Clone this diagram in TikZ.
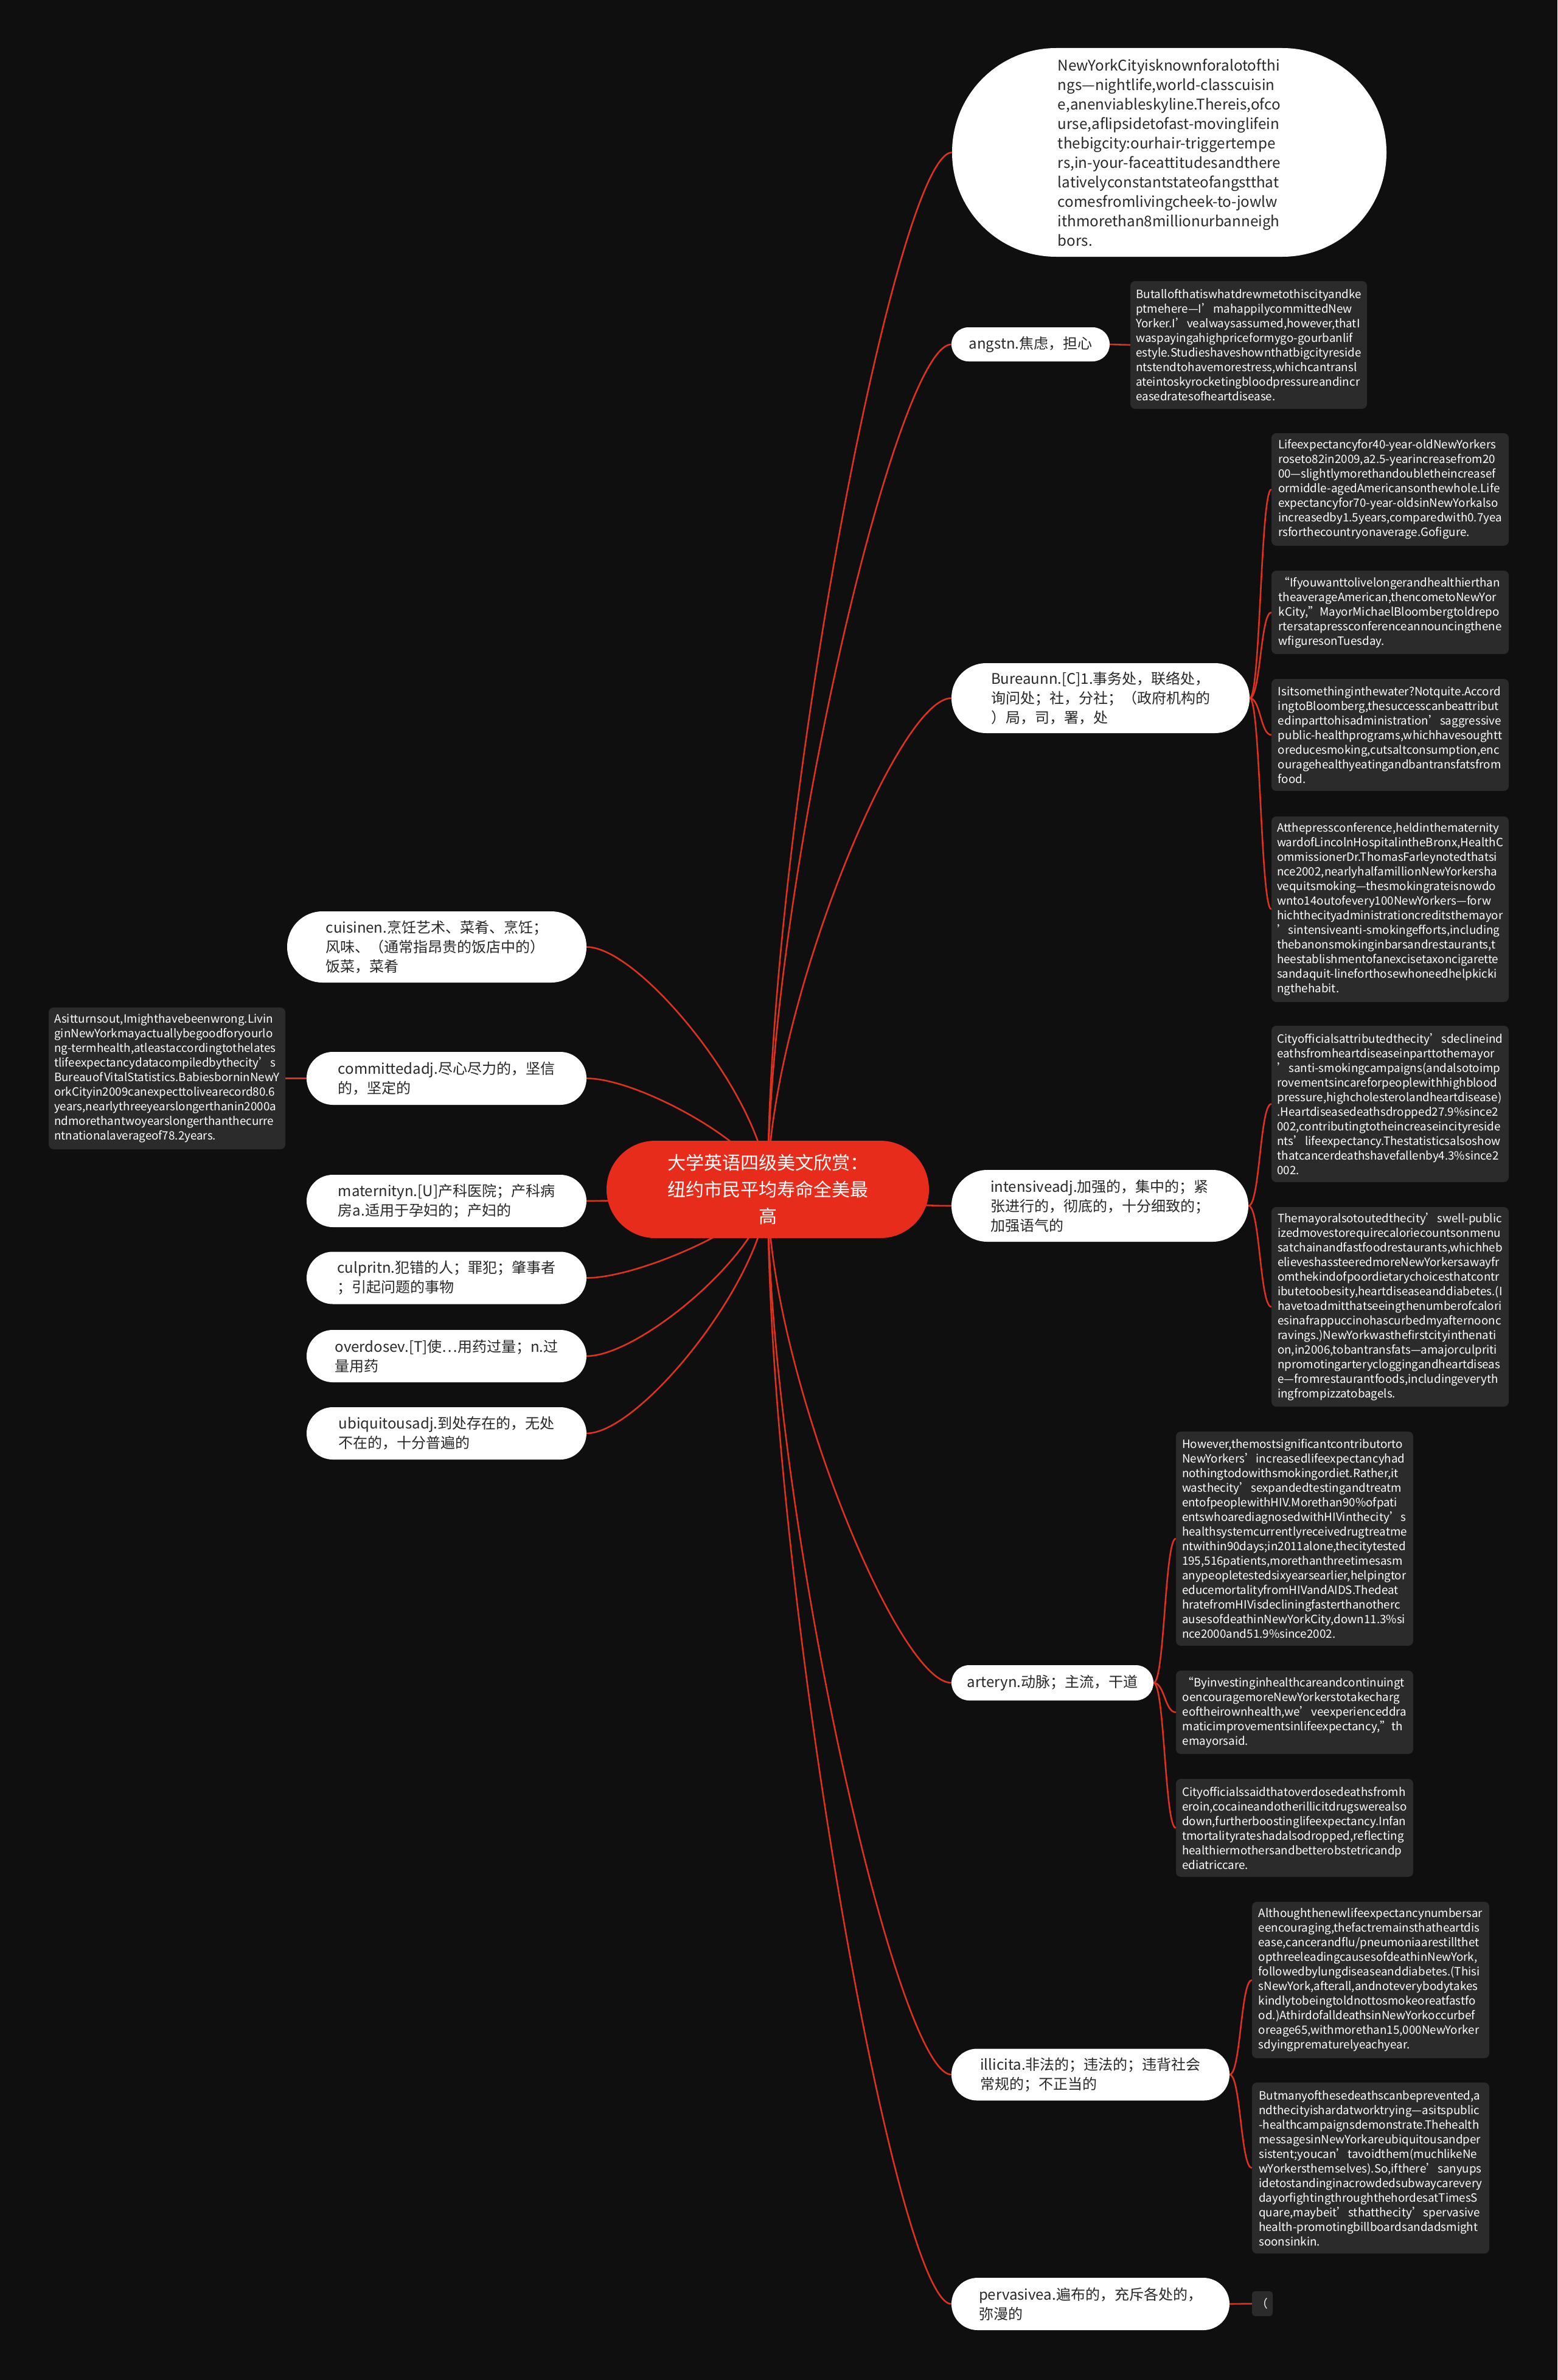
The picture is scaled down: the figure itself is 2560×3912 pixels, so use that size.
\documentclass[tikz,border=0pt]{standalone}
\usepackage{fontspec}
\setmainfont{Noto Sans CJK SC}
\usetikzlibrary{calc}
\pgfdeclarelayer{backlayer}
\pgfdeclarelayer{linklayer}
\pgfsetlayers{backlayer,linklayer,main}
\definecolor{bgc}{RGB}{15,15,15}
\definecolor{boxgray}{RGB}{43,43,43}
\definecolor{mmred}{RGB}{232,44,28}
\definecolor{linkred}{RGB}{222,50,32}
\definecolor{txtdark}{RGB}{40,40,40}
\newcommand\rootlink[1]{\draw[link] let \p1=(root.center), \p2=(#1) in (\p1) .. controls (\x1,{\y1+0.35*(\y2-\y1)}) and ({\x1+0.7*(\x2-\x1)},\y2) .. (\p2);}
\newcommand\sublink[2]{\draw[link] let \p1=(#1.east), \p2=(#2.west) in (\p1) .. controls ({0.5*(\x1+\x2)},\y1) and ({0.5*(\x1+\x2)},\y2) .. (\p2);}
\begin{document}
\begin{tikzpicture}[x=1pt,y=-1pt,
  link/.style={draw=linkred, line width=2.6pt},
  wnode/.style={fill=white, text=txtdark, align=left, inner sep=0pt, font=\fontsize{24}{32}\selectfont},
  dbox/.style={fill=boxgray, text=white, align=left, inner sep=0pt, minimum width=390pt, rounded corners=8pt, font=\fontsize{18.8}{24}\selectfont},
  rootnode/.style={fill=mmred, text=white, align=center, inner sep=0pt, minimum width=530pt, minimum height=160pt, rounded corners=80pt, font=\fontsize{30}{44}\selectfont}]
\begin{pgfonlayer}{backlayer}
\fill[bgc] (0,0) rectangle (2560,3912);
\end{pgfonlayer}
\useasboundingbox (0,0) rectangle (2560,3912);

% root
\node[rootnode] (root) at (1262,1955) {大学英语四级美文欣赏：\\纽约市民平均寿命全美最\\高};

% right main nodes
\node[wnode, minimum width=714pt, minimum height=343pt, rounded corners=171pt, font=\fontsize{24.2}{32}\selectfont] (intro) at (1922,250.5) {NewYorkCityisknownforalotofthi\\ngs—nightlife,world-classcuisin\\e,anenviableskyline.Thereis,ofco\\urse,aflipsidetofast-movinglifein\\thebigcity:ourhair-triggertempe\\rs,in-your-faceattitudesandthere\\lativelyconstantstateofangstthat\\comesfromlivingcheek-to-jowlw\\ithmorethan8millionurbanneigh\\bors.};
\node[wnode, minimum width=260pt, minimum height=56pt, rounded corners=28pt] (angst) at (1694,566) {angstn.焦虑，担心};
\node[wnode, minimum width=490pt, minimum height=115pt, rounded corners=57pt] (bureau) at (1809,1147.5) {Bureaunn.[C]1.事务处，联络处，\\询问处；社，分社；（政府机构的\\）局，司，署，处};
\node[wnode, minimum width=488pt, minimum height=118pt, rounded corners=59pt] (intensive) at (1808,1982) {intensiveadj.加强的，集中的；紧\\张进行的，彻底的，十分细致的；\\加强语气的};
\node[wnode, minimum width=332pt, minimum height=58pt, rounded corners=29pt] (artery) at (1730,2766) {arteryn.动脉；主流，干道};
\node[wnode, minimum width=457pt, minimum height=85pt, rounded corners=42pt] (illicit) at (1792.5,3410) {illicita.非法的；违法的；违背社会\\常规的；不正当的};
\node[wnode, minimum width=457pt, minimum height=86pt, rounded corners=43pt] (pervasive) at (1792.5,3787) {pervasivea.遍布的，充斥各处的，\\弥漫的};

% left main nodes
\node[wnode, minimum width=492pt, minimum height=117pt, rounded corners=58pt] (cuisine) at (718,1556.5) {cuisinen.烹饪艺术、菜肴、烹饪；\\风味、（通常指昂贵的饭店中的）\\饭菜，菜肴};
\node[wnode, minimum width=460pt, minimum height=87pt, rounded corners=43pt] (committed) at (734,1772.5) {committedadj.尽心尽力的，坚信\\的，坚定的};
\node[wnode, minimum width=460pt, minimum height=86pt, rounded corners=43pt] (maternity) at (734,1974) {maternityn.[U]产科医院；产科病\\房a.适用于孕妇的；产妇的};
\node[wnode, minimum width=460pt, minimum height=86pt, rounded corners=43pt] (culprit) at (734,2100.5) {culpritn.犯错的人；罪犯；肇事者\\；引起问题的事物};
\node[wnode, minimum width=460pt, minimum height=86pt, rounded corners=43pt] (overdose) at (734,2229) {overdosev.[T]使…用药过量；n.过\\量用药};
\node[wnode, minimum width=460pt, minimum height=86pt, rounded corners=43pt] (ubiquitous) at (734,2356) {ubiquitousadj.到处存在的，无处\\不在的，十分普遍的};

% dark detail boxes
\node[dbox, minimum width=389pt, minimum height=210pt] (ab) at (2052.5,567) {Butallofthatiswhatdrewmetothiscityandke\\ptmehere—I’mahappilycommittedNew\\Yorker.I’vealwaysassumed,however,thatI\\waspayingahighpriceformygo-gourbanlif\\estyle.Studieshaveshownthatbigcityreside\\ntstendtohavemorestress,whichcantransl\\ateintoskyrocketingbloodpressureandincr\\easedratesofheartdisease.};

\node[dbox, minimum height=185pt] (b1) at (2285,804.5) {Lifeexpectancyfor40-year-oldNewYorkers\\roseto82in2009,a2.5-yearincreasefrom20\\00—slightlymorethandoubletheincreasef\\ormiddle-agedAmericansonthewhole.Life\\expectancyfor70-year-oldsinNewYorkalso\\increasedby1.5years,comparedwith0.7yea\\rsforthecountryonaverage.Gofigure.};
\node[dbox, minimum height=137pt] (b2) at (2285,1006.5) {“Ifyouwanttolivelongerandhealthierthan\\theaverageAmerican,thencometoNewYor\\kCity,”MayorMichaelBloombergtoldrepo\\rtersatapressconferenceannouncingthene\\wfiguresonTuesday.};
\node[dbox, minimum height=184pt] (b3) at (2285,1208) {Isitsomethinginthewater?Notquite.Accord\\ingtoBloomberg,thesuccesscanbeattribut\\edinparttohisadministration’saggressive\\public-healthprograms,whichhavesoughtt\\oreducesmoking,cutsaltconsumption,enc\\ouragehealthyeatingandbantransfatsfrom\\food.};
\node[dbox, minimum height=305pt] (b4) at (2285,1494.5) {Atthepressconference,heldinthematernity\\wardofLincolnHospitalintheBronx,HealthC\\ommissionerDr.ThomasFarleynotedthatsi\\nce2002,nearlyhalfamillionNewYorkersha\\vequitsmoking—thesmokingrateisnowdo\\wnto14outofevery100NewYorkers—forw\\hichthecityadministrationcreditsthemayor\\’sintensiveanti-smokingefforts,including\\thebanonsmokinginbarsandrestaurants,t\\heestablishmentofanexcisetaxoncigarette\\sandaquit-lineforthosewhoneedhelpkicki\\ngthehabit.};

\node[dbox, minimum height=257pt] (i1) at (2285,1814.5) {Cityofficialsattributedthecity’sdeclineind\\eathsfromheartdiseaseinparttothemayor\\’santi-smokingcampaigns(andalsotoimp\\rovementsincareforpeoplewithhighblood\\pressure,highcholesterolandheartdisease)\\.Heartdiseasedeathsdropped27.9\%since2\\002,contributingtotheincreaseincityreside\\nts’lifeexpectancy.Thestatisticsalsoshow\\thatcancerdeathshavefallenby4.3\%since2\\002.};
\node[dbox, minimum height=328pt] (i2) at (2285,2148) {Themayoralsotoutedthecity’swell-public\\izedmovestorequirecaloriecountsonmenu\\satchainandfastfoodrestaurants,whichheb\\elieveshassteeredmoreNewYorkersawayfr\\omthekindofpoordietarychoicesthatcontr\\ibutetoobesity,heartdiseaseanddiabetes.(I\\havetoadmitthatseeingthenumberofcalori\\esinafrappuccinohascurbedmyafternoonc\\ravings.)NewYorkwasthefirstcityinthenati\\on,in2006,tobantransfats—amajorculpriti\\npromotingarterycloggingandheartdiseas\\e—fromrestaurantfoods,includingeveryth\\ingfrompizzatobagels.};

\node[dbox, minimum height=352pt] (a1) at (2128,2529) {However,themostsignificantcontributorto\\NewYorkers’increasedlifeexpectancyhad\\nothingtodowithsmokingordiet.Rather,it\\wasthecity’sexpandedtestingandtreatm\\entofpeoplewithHIV.Morethan90\%ofpati\\entswhoarediagnosedwithHIVinthecity’s\\healthsystemcurrentlyreceivedrugtreatme\\ntwithin90days;in2011alone,thecitytested\\195,516patients,morethanthreetimesasm\\anypeopletestedsixyearsearlier,helpingtor\\educemortalityfromHIVandAIDS.Thedeat\\hratefromHIVisdecliningfasterthanotherc\\ausesofdeathinNewYorkCity,down11.3\%si\\nce2000and51.9\%since2002.};
\node[dbox, minimum height=137pt] (a2) at (2128,2814.5) {“Byinvestinginhealthcareandcontinuingt\\oencouragemoreNewYorkerstotakecharg\\eoftheirownhealth,we’veexperienceddra\\maticimprovementsinlifeexpectancy,”th\\emayorsaid.};
\node[dbox, minimum height=161pt] (a3) at (2128,3004.5) {Cityofficialssaidthatoverdosedeathsfromh\\eroin,cocaineandotherillicitdrugswerealso\\down,furtherboostinglifeexpectancy.Infan\\tmortalityrateshadalsodropped,reflecting\\healthiermothersandbetterobstetricandp\\ediatriccare.};

\node[dbox, minimum height=257pt] (l1) at (2253,3254.5) {Althoughthenewlifeexpectancynumbersar\\eencouraging,thefactremainsthatheartdis\\ease,cancerandflu/pneumoniaarestillthet\\opthreeleadingcausesofdeathinNewYork,\\followedbylungdiseaseanddiabetes.(Thisi\\sNewYork,afterall,andnoteverybodytakes\\kindlytobeingtoldnottosmokeoreatfastfo\\od.)AthirdofalldeathsinNewYorkoccurbef\\oreage65,withmorethan15,000NewYorker\\sdyingprematurelyeachyear.};
\node[dbox, minimum height=281pt] (l2) at (2253,3563.5) {Butmanyofthesedeathscanbeprevented,a\\ndthecityishardatworktrying—asitspublic\\-healthcampaignsdemonstrate.Thehealth\\messagesinNewYorkareubiquitousandper\\sistent;youcan’tavoidthem(muchlikeNe\\wYorkersthemselves).So,ifthere’sanyups\\idetostandinginacrowdedsubwaycarevery\\dayorfightingthroughthehordesatTimesS\\quare,maybeit’sthatthecity’spervasive\\health-promotingbillboardsandadsmight\\soonsinkin.};

\node[dbox, minimum width=34pt, minimum height=41pt, rounded corners=5pt] (pb) at (2075,3786.5) {（};

\node[dbox, minimum width=389pt, minimum height=233pt] (lb) at (274.5,1772.5) {Asitturnsout,Imighthavebeenwrong.Livin\\ginNewYorkmayactuallybegoodforyourlo\\ng-termhealth,atleastaccordingtothelates\\tlifeexpectancydatacompiledbythecity’s\\BureauofVitalStatistics.BabiesborninNewY\\orkCityin2009canexpecttolivearecord80.6\\years,nearlythreeyearslongerthanin2000a\\ndmorethantwoyearslongerthanthecurre\\ntnationalaverageof78.2years.};

% connectors
\begin{pgfonlayer}{linklayer}
\rootlink{intro.west}
\rootlink{angst.west}
\rootlink{bureau.west}
\rootlink{intensive.west}
\rootlink{artery.west}
\rootlink{illicit.west}
\rootlink{pervasive.west}
\rootlink{cuisine.east}
\rootlink{committed.east}
\rootlink{maternity.east}
\rootlink{culprit.east}
\rootlink{overdose.east}
\rootlink{ubiquitous.east}
\draw[link] (angst.east) -- (ab.west);
\sublink{bureau}{b1}
\sublink{bureau}{b2}
\sublink{bureau}{b3}
\sublink{bureau}{b4}
\sublink{intensive}{i1}
\sublink{intensive}{i2}
\sublink{artery}{a1}
\sublink{artery}{a2}
\sublink{artery}{a3}
\sublink{illicit}{l1}
\sublink{illicit}{l2}
\draw[link] (pervasive.east) -- (pb.west);
\draw[link] (committed.west) -- (lb.east);
\end{pgfonlayer}
\end{tikzpicture}
\end{document}
